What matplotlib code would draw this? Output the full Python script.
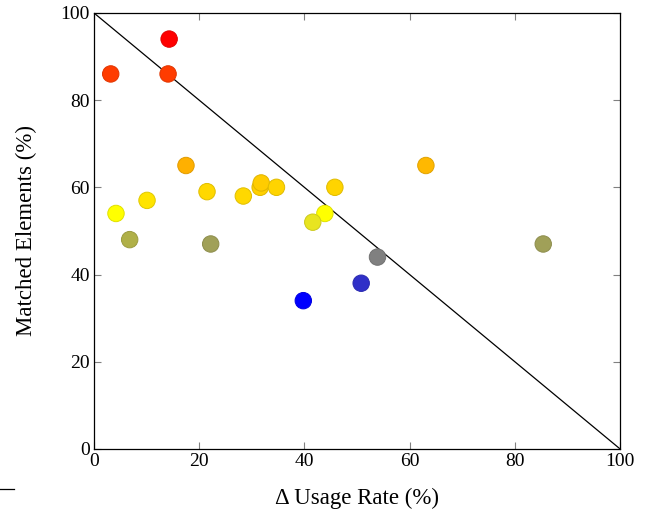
import matplotlib
matplotlib.use("Agg")
from matplotlib import pyplot as plt
from matplotlib.lines import Line2D
import matplotlib.colors as mcolors
import numpy as np

plt.rcParams['font.family'] = ['Liberation Serif', 'DejaVu Serif']

# delta usage rate (%) and matched elements (%)
usage = [14.3, 3.2, 14.1, 17.5, 4.2, 10.1, 6.8, 21.5, 22.2, 28.4,
         31.6, 31.8, 34.7, 45.8, 43.9, 41.6, 53.9, 50.8, 39.8, 63.1, 85.4]
matched = [94, 86, 86, 65, 54, 57, 48, 59, 47, 58,
           60, 61, 60, 60, 54, 52, 44, 38, 34, 65, 47]
colors = ['#ff0000', '#ff3c00', '#ff3c00', '#ffb000', '#ffff00', '#ffe400',
          '#b0b048', '#ffd800', '#a0a058', '#ffd800', '#ffd000', '#ffcc00',
          '#ffd400', '#ffd400', '#ffff00', '#e8e420', '#808080', '#3030c8',
          '#0000ff', '#ffb800', '#a0a058']

edges = [tuple(np.array(mcolors.to_rgb(c)) * 0.88) for c in colors]

fig = plt.figure(figsize=(6.52, 5.16), dpi=100)
ax = fig.add_axes([0.144, 0.130, 0.807, 0.845])

ax.plot([0, 100], [100, 0], color='black', lw=0.9, zorder=1)
ax.scatter(usage, matched, s=140, c=colors, edgecolors=edges, linewidths=0.7, zorder=2)

ax.set_xlim(0, 100)
ax.set_ylim(0, 100)
ax.set_xticks([0, 20, 40, 60, 80, 100])
ax.set_yticks([0, 20, 40, 60, 80, 100])
ax.tick_params(direction='in', top=True, right=True, length=5, width=0.8,
               color='#808080', labelsize=14, pad=3)
for s in ax.spines.values():
    s.set_linewidth(0.9)

ax.set_xlabel('Δ Usage Rate (%)', fontsize=16.5, labelpad=13)
ax.set_ylabel('Matched Elements (%)', fontsize=16.5, labelpad=17)

# stray mark at lower left
fig.add_artist(Line2D([0, 14 / 652], [1 - 489 / 516, 1 - 489 / 516], color='black', lw=0.9))

fig.savefig('out.png', dpi=100)
